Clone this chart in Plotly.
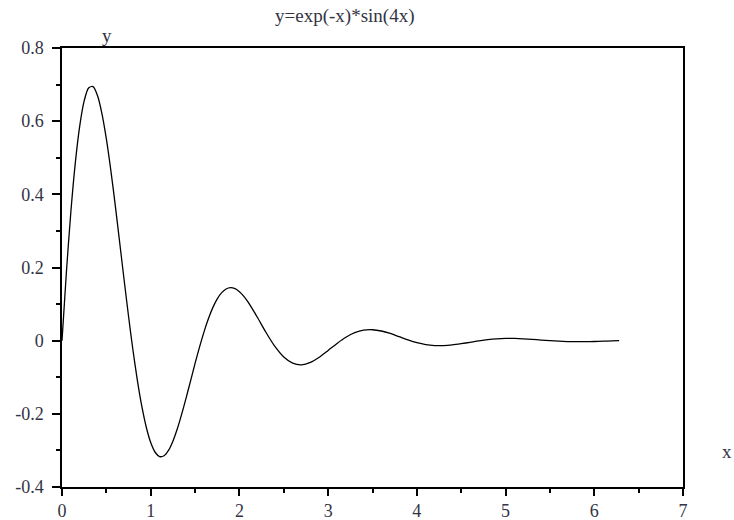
import plotly.graph_objects as go

x_vals = [0.0, 0.05, 0.1, 0.15, 0.2, 0.25, 0.3, 0.35, 0.4, 0.45, 0.5, 0.55, 0.6, 0.65, 0.7, 0.75,
          0.8, 0.85, 0.9, 0.95, 1.0, 1.05, 1.1, 1.15, 1.2, 1.25, 1.3, 1.35, 1.4, 1.45, 1.5, 1.55,
          1.6, 1.65, 1.7, 1.75, 1.8, 1.85, 1.9, 1.95, 2.0, 2.05,
          2.1, 2.2, 2.3, 2.4, 2.5, 2.6, 2.7, 2.8, 2.9,
          3.0, 3.1, 3.2, 3.3, 3.4, 3.5, 3.6, 3.7, 3.8, 3.9,
          4.0, 4.1, 4.2, 4.3, 4.4, 4.5, 4.6, 4.7, 4.8, 4.9,
          5.0, 5.1, 5.2, 5.3, 5.4, 5.5, 5.6, 5.7, 5.8, 5.9,
          6.0, 6.1, 6.2, 6.28]
y_vals = [0.0, 0.1890, 0.3523, 0.4860, 0.5873, 0.6553, 0.6905, 0.6944, 0.6700, 0.6209, 0.5515, 0.4664,
          0.3707, 0.2691, 0.1664, 0.0667, -0.0262, -0.1092, -0.1799, -0.2366, -0.2784, -0.3050,
          -0.3168, -0.3146, -0.3001, -0.2747, -0.2408, -0.2003, -0.1557, -0.1090, -0.0623, -0.0176,
          0.0235, 0.0598, 0.0903, 0.1142, 0.1312, 0.1413, 0.1448, 0.1421, 0.1339, 0.1211,
          0.1047, 0.0648, 0.0224, -0.0158, -0.0447, -0.0615, -0.0659, -0.0595, -0.0453,
          -0.0267, -0.0075, 0.0094, 0.0218, 0.0287, 0.0299, 0.0264, 0.0197, 0.0109, 0.0022,
          -0.0053, -0.0106, -0.0133, -0.0136, -0.0117, -0.0083, -0.0044, -0.0005, 0.0028, 0.0050,
          0.0061, 0.0061, 0.0051, 0.0036, 0.0017, 0.0000, -0.0015, -0.0024, -0.0028, -0.0027,
          -0.0023, -0.0015, -0.0007, 0.0000]

y_tick_vals = [-0.4, -0.2, 0.0, 0.2, 0.4, 0.6, 0.8]
y_tick_text = ["-0.4", "-0.2", "0", "0.2", "0.4", "0.6", "0.8"]
y_minor_vals = [-0.3, -0.1, 0.1, 0.3, 0.5, 0.7]
x_tick_vals = [0, 1, 2, 3, 4, 5, 6, 7]
x_tick_text = ["0", "1", "2", "3", "4", "5", "6", "7"]
x_minor_vals = [0.5, 1.5, 2.5, 3.5, 4.5, 5.5, 6.5]

title_text = "y=exp(-x)*sin(4x)"
x_label = "x"
y_label = "y"

font_family = "Liberation Serif"
text_color = "#333344"

fig = go.Figure()
fig.add_trace(go.Scatter(
    x=x_vals, y=y_vals, mode="lines",
    line=dict(color="black", width=1.3, shape="spline", smoothing=0.8),
    hoverinfo="skip", showlegend=False,
))

axis_common = dict(
    showgrid=False, zeroline=False, showline=True, linecolor="black", linewidth=1.5,
    mirror=True, ticks="outside", tickcolor="black", tickwidth=1.5,
    tickfont=dict(family=font_family, size=18, color=text_color),
    tickmode="array",
)

fig.update_xaxes(range=[0, 7], tickvals=x_tick_vals, ticktext=x_tick_text, ticklen=7,
                 minor=dict(tickmode="array", tickvals=x_minor_vals, ticklen=4, ticks="outside",
                            tickcolor="black", tickwidth=1.5),
                 **axis_common)
fig.update_yaxes(range=[-0.4, 0.8], tickvals=y_tick_vals, ticktext=y_tick_text, ticklen=8,
                 ticklabelstandoff=5,
                 minor=dict(tickmode="array", tickvals=y_minor_vals, ticklen=4, ticks="outside",
                            tickcolor="black", tickwidth=1.5),
                 **axis_common)

fig.update_layout(
    width=734, height=520,
    margin=dict(l=62, r=51, t=48, b=33, autoexpand=False),
    plot_bgcolor="white", paper_bgcolor="white",
    font=dict(family=font_family, color=text_color),
    annotations=[
        dict(text=title_text, xref="paper", yref="paper", x=0.455, y=1.0, yshift=32,
             showarrow=False, font=dict(family=font_family, size=19, color=text_color),
             xanchor="center", yanchor="middle"),
        dict(text=y_label, xref="paper", yref="paper", x=0.072, y=1.0, yshift=13,
             showarrow=False, font=dict(family=font_family, size=19, color=text_color),
             xanchor="center", yanchor="middle"),
        dict(text=x_label, xref="paper", yref="paper", x=1.0, y=0.08, xshift=44,
             showarrow=False, font=dict(family=font_family, size=19, color=text_color),
             xanchor="center", yanchor="middle"),
    ],
)

fig.write_html("out.html", config={"displayModeBar": False},
               post_script="document.body.style.margin='0';")
